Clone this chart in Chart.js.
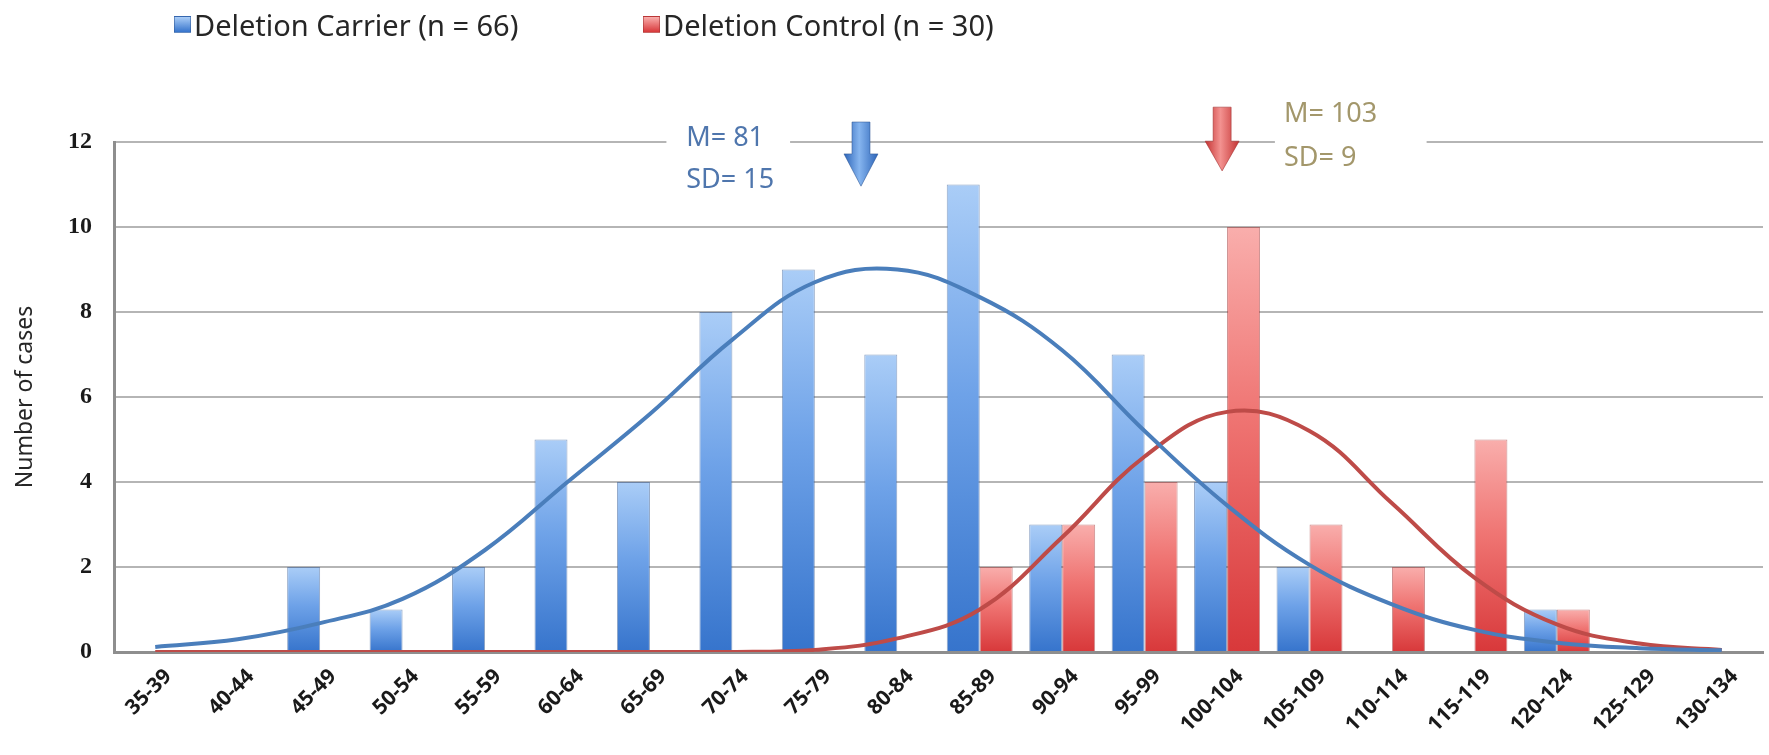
<!DOCTYPE html>
<html>
<head>
<meta charset="utf-8">
<script src="https://cdn.jsdelivr.net/npm/chart.js@4.4.1/dist/chart.umd.min.js"></script>
<style>
    html, body { margin: 0; padding: 0; background: #ffffff; }
    #wrap { position: relative; width: 1769px; height: 755px; }
    #chart { position: absolute; left: 0; top: 0; }
    #legend { font-family: "Noto Sans", sans-serif; font-size: 29px; color: #262626; }
    .legend-item { position: absolute; top: 5px; display: flex; align-items: center; white-space: nowrap; }
    .legend-mark { width: 15px; height: 15px; margin-right: 3px; }
</style>
</head>
<body>
<div id="wrap">
    <canvas id="chart" width="1769" height="755"></canvas>
    <div id="legend"></div>
</div>
<script>
// 年齡區間（x 軸類別）
const AGE_BINS = ["35-39", "40-44", "45-49", "50-54", "55-59", "60-64", "65-69", "70-74", "75-79", "80-84",
    "85-89", "90-94", "95-99", "100-104", "105-109", "110-114", "115-119", "120-124", "125-129", "130-134"];

// 每個區間的人數（長條）
const CARRIER_COUNTS = [0, 0, 2, 1, 2, 5, 4, 8, 9, 7, 11, 3, 7, 4, 2, 0, 0, 1, 0, 0];
const CONTROL_COUNTS = [0, 0, 0, 0, 0, 0, 0, 0, 0, 0, 2, 3, 4, 10, 3, 2, 5, 1, 0, 0];

// 常態曲線（從圖上讀出來的值）
const CARRIER_CURVE = [0.12, 0.3, 0.68, 1.25, 2.4, 4.0, 5.6, 7.35, 8.7, 9.0, 8.35, 7.1, 5.2, 3.45, 2.05, 1.12, 0.52, 0.22, 0.09, 0.04];
const CONTROL_CURVE = [0, 0, 0, 0, 0, 0, 0, 0, 0.05, 0.32, 1.0, 2.7, 4.6, 5.65, 5.2, 3.5, 1.75, 0.65, 0.2, 0.05];

const SERIES_NAMES = ["Deletion Carrier (n = 66)", "Deletion Control (n = 30)"];
const Y_MAX = 12;
const Y_STEP = 2;

// 平均數 / 標準差的註記
const CARRIER_NOTE = ["M= 81", "SD= 15"];
const CONTROL_NOTE = ["M= 103", "SD= 9"];

const BLUE = { light: "#aacdf7", mid: "#6ea2e8", dark: "#3674cc", line: "#4a7ebb", edge: "rgba(50,90,150,0.55)",
    note: "#4f76ad", arrowLight: "#86b5ef", arrowDark: "#2c64b8" };
const RED = { light: "#f9aeac", mid: "#ef7472", dark: "#d8383a", line: "#be4b48", edge: "rgba(160,50,50,0.55)",
    note: "#a3976b", arrowLight: "#f39290", arrowDark: "#c43232" };

// 每根長條由上到下做漸層（上淺下深）
function barGradient(colors) {
    return (context) => {
        const chart = context.chart;
        if (!chart.chartArea || context.raw == null) return colors.dark;
        const y = chart.scales.y;
        const top = y.getPixelForValue(context.raw);
        const bottom = y.getPixelForValue(0);
        if (!(bottom > top)) return colors.dark;
        const g = chart.ctx.createLinearGradient(0, top, 0, bottom);
        g.addColorStop(0, colors.light);
        g.addColorStop(0.45, colors.mid);
        g.addColorStop(1, colors.dark);
        return g;
    };
}

function drawArrow(ctx, cx, top, headStart, bottom, colors) {
    const shaft = 9, head = 17;
    const g = ctx.createLinearGradient(cx - head, 0, cx + head, 0);
    g.addColorStop(0, colors.arrowDark);
    g.addColorStop(0.45, colors.arrowLight);
    g.addColorStop(1, colors.arrowDark);
    ctx.beginPath();
    ctx.moveTo(cx - shaft, top);
    ctx.lineTo(cx + shaft, top);
    ctx.lineTo(cx + shaft, headStart);
    ctx.lineTo(cx + head, headStart);
    ctx.lineTo(cx, bottom);
    ctx.lineTo(cx - head, headStart);
    ctx.lineTo(cx - shaft, headStart);
    ctx.closePath();
    ctx.fillStyle = g;
    ctx.fill();
    ctx.strokeStyle = colors.edge;
    ctx.lineWidth = 1;
    ctx.stroke();
}

// 註記的位置：x 用類別的小數位置，y 用數值座標
const NOTES = [
    { lines: CARRIER_NOTE, colors: BLUE, textX: 6.44, textY: [12.09, 11.1], gap: [6.2, 7.7],
      arrowX: 8.56, arrow: [12.47, 11.72, 10.96] },
    { lines: CONTROL_NOTE, colors: RED, textX: 13.69, textY: [12.64, 11.62], gap: [13.58, 15.42],
      arrowX: 12.94, arrow: [12.82, 12.02, 11.32] }
];

const meanNotesPlugin = {
    id: "meanNotes",
    beforeDatasetsDraw(chart) {
        const { ctx, scales: { x, y } } = chart;
        ctx.save();
        ctx.fillStyle = "#ffffff";
        NOTES.forEach((note) => {
            const x0 = x.getPixelForValue(note.gap[0]);
            const x1 = x.getPixelForValue(note.gap[1]);
            ctx.fillRect(x0, y.getPixelForValue(Y_MAX) - 5, x1 - x0, 10);
        });
        ctx.restore();
    },
    afterDraw(chart) {
        const { ctx, scales: { x, y } } = chart;
        ctx.save();
        ctx.font = '27px "Noto Sans", sans-serif';
        ctx.textBaseline = "middle";
        ctx.textAlign = "left";
        NOTES.forEach((note) => {
            ctx.fillStyle = note.colors.note;
            note.lines.forEach((line, i) => {
                ctx.fillText(line, x.getPixelForValue(note.textX), y.getPixelForValue(note.textY[i]));
            });
            drawArrow(ctx, x.getPixelForValue(note.arrowX), y.getPixelForValue(note.arrow[0]),
                y.getPixelForValue(note.arrow[1]), y.getPixelForValue(note.arrow[2]), note.colors);
        });
        ctx.restore();
    }
};

function renderLegend() {
    const container = document.getElementById("legend");
    const lefts = [174, 643];
    [BLUE, RED].forEach((colors, i) => {
        const item = document.createElement("div");
        item.className = "legend-item";
        item.style.left = lefts[i] + "px";
        item.innerHTML = `
            <span class="legend-mark" style="background: linear-gradient(${colors.light}, ${colors.dark}); border: 1px solid ${colors.edge}"></span>
            <span>${SERIES_NAMES[i]}</span>`;
        container.appendChild(item);
    });
}

const ctx = document.getElementById("chart");
new Chart(ctx, {
    data: {
        labels: AGE_BINS,
        datasets: [
            { type: "line", label: SERIES_NAMES[0] + " curve", data: CARRIER_CURVE, borderColor: BLUE.line,
              borderWidth: 4, pointRadius: 0, tension: 0.4, order: 0 },
            { type: "line", label: SERIES_NAMES[1] + " curve", data: CONTROL_CURVE, borderColor: RED.line,
              borderWidth: 4, pointRadius: 0, tension: 0.4, order: 0 },
            { type: "bar", label: SERIES_NAMES[0], data: CARRIER_COUNTS, backgroundColor: barGradient(BLUE),
              borderColor: BLUE.edge, borderWidth: 1, barPercentage: 1, categoryPercentage: 0.8, order: 1 },
            { type: "bar", label: SERIES_NAMES[1], data: CONTROL_COUNTS, backgroundColor: barGradient(RED),
              borderColor: RED.edge, borderWidth: 1, barPercentage: 1, categoryPercentage: 0.8, order: 1 }
        ]
    },
    options: {
        responsive: false,
        animation: false,
        layout: { padding: { top: 142, right: 6, left: 0, bottom: 0 } },
        plugins: { legend: { display: false }, tooltip: { enabled: false } },
        scales: {
            x: {
                afterFit: (scale) => { scale.height = 103; },
                grid: { display: false },
                border: { display: true, color: "#8e8e8e", width: 3 },
                ticks: {
                    maxRotation: 45, minRotation: 45, autoSkip: false, padding: 4, labelOffset: 13,
                    color: "#1a1a1a", font: { family: "Noto Sans", weight: "bold", size: 21 }
                }
            },
            y: {
                min: 0, max: Y_MAX,
                afterFit: (scale) => { scale.width = 114; },
                grid: { color: "#b5b5b5", lineWidth: 2, drawTicks: false },
                border: { display: true, color: "#8e8e8e", width: 3 },
                ticks: {
                    stepSize: Y_STEP, padding: 22, color: "#1a1a1a",
                    font: { family: "Liberation Serif", weight: "bold", size: 24 }
                },
                title: {
                    display: true, text: "Number of cases", color: "#262626", padding: { top: 12, bottom: 0 },
                    font: { family: "Noto Sans", size: 23 }
                }
            }
        }
    },
    plugins: [meanNotesPlugin]
});

renderLegend();
</script>
</body>
</html>
